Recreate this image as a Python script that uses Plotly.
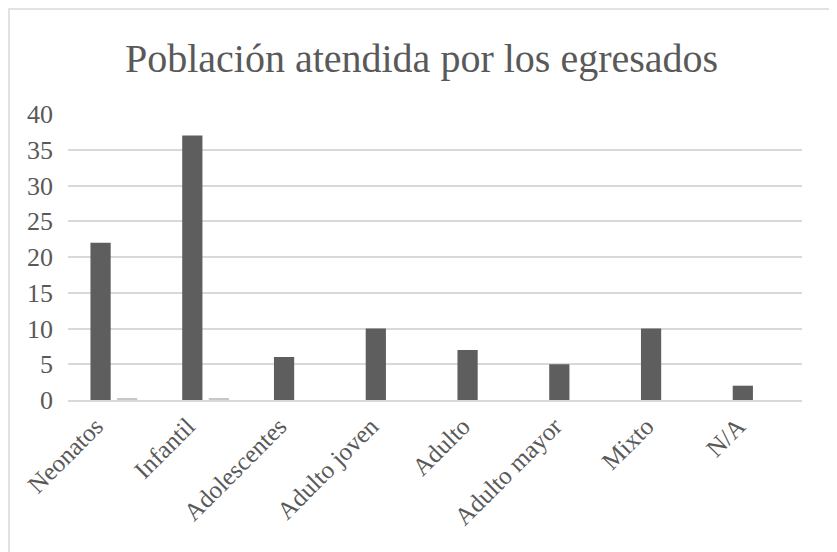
import plotly.graph_objects as go

# datos
categorias = ["Neonatos", "Infantil", "Adolescentes", "Adulto joven",
              "Adulto", "Adulto mayor", "Mixto", "N/A"]
serie_1 = [22, 37, 6, 10, 7, 5, 10, 2]
serie_2 = [0.2, 0.2, 0, 0, 0, 0, 0, 0]
y_ticks = [0, 5, 10, 15, 20, 25, 30, 35, 40]

# la pagina deja 8 px de margen, se compensa en los margenes
W, H = 837, 552
ML, MR, MT, MB = 60, 43, 106, 160
gris_texto = "#595959"
gris_linea = "#d9d9d9"
fuente = "Liberation Serif"

fig = go.Figure()
fig.add_trace(go.Bar(x=categorias, y=serie_1, marker_color="#5e5e5e",
                     marker_line_width=0, name="Serie 1"))
fig.add_trace(go.Bar(x=categorias, y=serie_2, marker_color="#c8c8c8",
                     marker_line_width=0, name="Serie 2"))

# marco exterior del area del grafico
pw, ph = W - ML - MR, H - MT - MB
fig.add_shape(type="rect", xref="paper", yref="paper",
              x0=(1 - ML) / pw, x1=(W + 10 - ML) / pw,
              y0=(H - MB - (H + 10)) / ph, y1=(H - MB - 1) / ph,
              line=dict(color=gris_linea, width=1.5), layer="below")

fig.update_layout(
    width=W, height=H,
    margin=dict(l=ML, r=MR, t=MT, b=MB, autoexpand=False),
    paper_bgcolor="white", plot_bgcolor="white",
    showlegend=False,
    bargap=0.42, bargroupgap=0.24,
    font=dict(family=fuente, color=gris_texto, size=24),
    title=dict(text="Población atendida por los egresados",
               x=(W / 2 - 5) / W, xanchor="center", xref="container",
               y=1 - 50 / H, yanchor="middle", yref="container",
               font=dict(size=40, color=gris_texto, family=fuente)),
)
fig.update_yaxes(range=[0, 40], tickvals=y_ticks, showgrid=True,
                 gridcolor=gris_linea, gridwidth=1.5, zeroline=False,
                 showline=False, ticks="", ticklabelstandoff=14,
                 tickfont=dict(size=26))
fig.update_xaxes(showline=True, linecolor=gris_linea, linewidth=1.5,
                 tickangle=-45, ticks="", ticklabelstandoff=0,
                 ticklabelshift=-18, tickfont=dict(size=25))

fig.write_html("out.html")
